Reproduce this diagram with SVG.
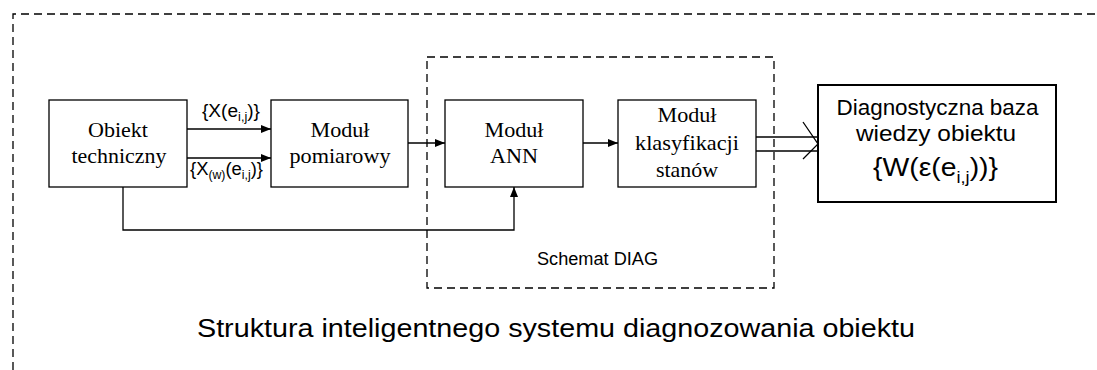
<svg xmlns="http://www.w3.org/2000/svg" width="1097" height="370" viewBox="0 0 1097 370">
<style>
.box{fill:#fff;stroke:#000;stroke-width:1.3}
.big{fill:#fff;stroke:#000;stroke-width:2}
.dash{fill:none;stroke:#000;stroke-width:1.3;stroke-dasharray:8 5}
.ln{fill:none;stroke:#000;stroke-width:1.3}
.serif{font-family:'Liberation Serif','Times New Roman',serif;font-size:21.5px;text-anchor:middle;fill:#000}
.sans{font-family:'Liberation Sans',Arial,sans-serif;fill:#000}
</style>
<defs>
<marker id="ah" markerWidth="10" markerHeight="8" refX="10" refY="4" orient="auto" markerUnits="userSpaceOnUse">
<path d="M0,0 L10,4 L0,8 Z" fill="#000"/>
</marker>
</defs>
<g id="frame">
<path class="dash" d="M13,370 V14 H1097"/>
</g>
<g id="diag-frame">
<rect class="dash" x="427" y="57" width="347" height="231"/>
<text class="sans" x="597.5" y="265" font-size="17.5" text-anchor="middle" textLength="121" lengthAdjust="spacingAndGlyphs">Schemat DIAG</text>
</g>
<g id="obiekt">
<rect class="box" x="49" y="100" width="138" height="87"/>
<text class="serif" x="118" y="137" textLength="60" lengthAdjust="spacingAndGlyphs">Obiekt</text>
<text class="serif" x="119" y="163" textLength="95" lengthAdjust="spacingAndGlyphs">techniczny</text>
</g>
<g id="pomiarowy">
<rect class="box" x="271" y="100" width="137" height="87"/>
<text class="serif" x="340" y="137" textLength="59" lengthAdjust="spacingAndGlyphs">Moduł</text>
<text class="serif" x="340" y="163" textLength="101" lengthAdjust="spacingAndGlyphs">pomiarowy</text>
</g>
<g id="ann">
<rect class="box" x="445" y="100" width="138" height="87"/>
<text class="serif" x="514" y="137" textLength="59" lengthAdjust="spacingAndGlyphs">Moduł</text>
<text class="serif" x="514" y="163" textLength="48" lengthAdjust="spacingAndGlyphs">ANN</text>
</g>
<g id="klasyfikacja">
<rect class="box" x="618" y="100" width="138" height="87"/>
<text class="serif" x="687" y="122" textLength="59" lengthAdjust="spacingAndGlyphs">Moduł</text>
<text class="serif" x="687" y="150" textLength="104" lengthAdjust="spacingAndGlyphs">klasyfikacji</text>
<text class="serif" x="687" y="177" textLength="62" lengthAdjust="spacingAndGlyphs">stanów</text>
</g>
<g id="baza">
<rect class="big" x="818" y="85" width="238" height="117"/>
<text class="sans" x="937.5" y="115" font-size="22" text-anchor="middle" textLength="202" lengthAdjust="spacingAndGlyphs">Diagnostyczna baza</text>
<text class="sans" x="936" y="141" font-size="22" text-anchor="middle" textLength="160" lengthAdjust="spacingAndGlyphs">wiedzy obiektu</text>
<text class="sans" x="873" y="176" font-size="25" textLength="125" lengthAdjust="spacingAndGlyphs">{W(ε(e<tspan font-size="16" dy="7">i,j</tspan><tspan dy="-7">))}</tspan></text>
</g>
<g id="connectors">
<line class="ln" x1="187" y1="129" x2="271" y2="129" marker-end="url(#ah)"/>
<line class="ln" x1="187" y1="158" x2="271" y2="158" marker-end="url(#ah)"/>
<line class="ln" x1="408" y1="143" x2="445" y2="143" marker-end="url(#ah)"/>
<line class="ln" x1="583" y1="143" x2="618" y2="143" marker-end="url(#ah)"/>
<path class="ln" d="M123,187 V230 H514 V187" marker-end="url(#ah)"/>
<line class="ln" x1="756" y1="137" x2="817" y2="137"/>
<line class="ln" x1="756" y1="151" x2="817" y2="151"/>
<path class="ln" d="M803,122 L818,144 L803,159"/>
<text class="sans" x="202" y="117" font-size="18" textLength="58" lengthAdjust="spacingAndGlyphs">{X(e<tspan font-size="12" dy="4">i,j</tspan><tspan dy="-4">)}</tspan></text>
<text class="sans" x="190" y="175" font-size="18" textLength="73" lengthAdjust="spacingAndGlyphs">{X<tspan font-size="12" dy="4">(w)</tspan><tspan dy="-4">(e</tspan><tspan font-size="12" dy="4">i,j</tspan><tspan dy="-4">)}</tspan></text>
</g>
<g id="title">
<text class="sans" x="197" y="337" font-size="25" textLength="718" lengthAdjust="spacingAndGlyphs">Struktura inteligentnego systemu diagnozowania obiektu</text>
</g>
</svg>
